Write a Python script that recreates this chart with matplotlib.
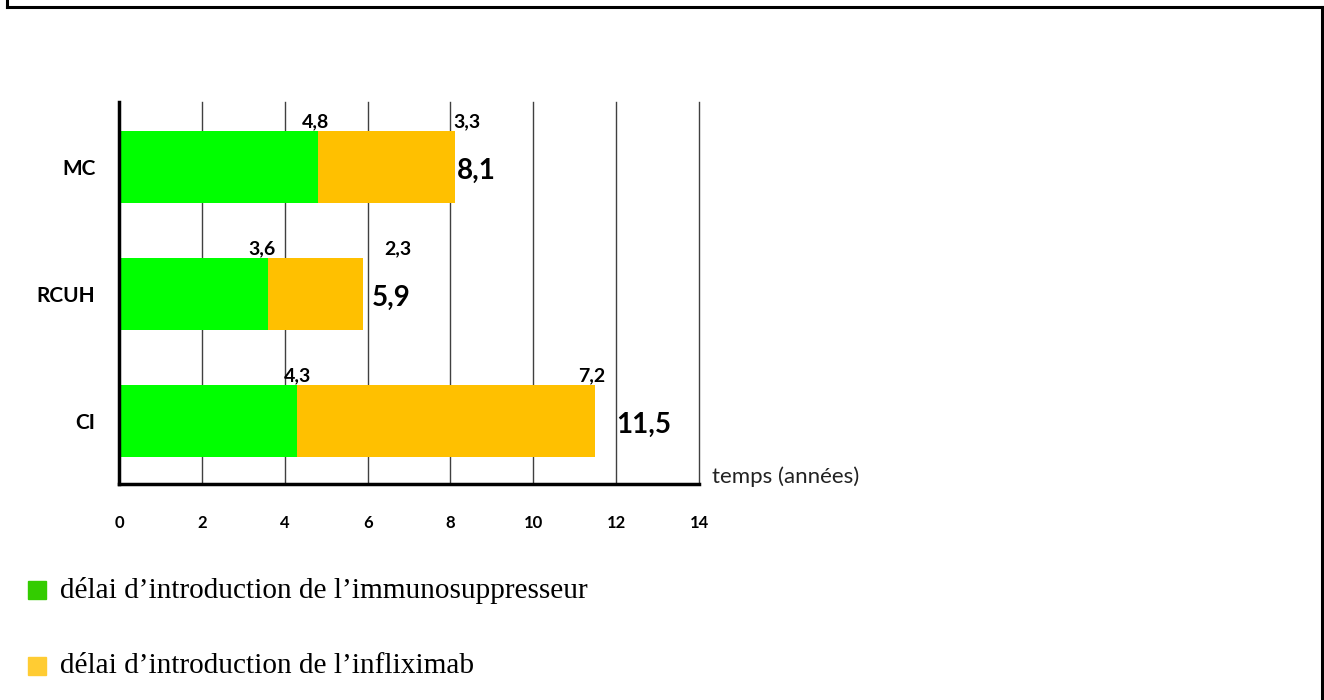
import matplotlib.pyplot as plt
from matplotlib.lines import Line2D
from matplotlib.patches import Rectangle

categories = ["CI", "RCUH", "MC"]
immuno = [4.3, 3.6, 4.8]
inflix = [7.2, 2.3, 3.3]
totals = [11.5, 5.9, 8.1]
# where the segment labels sit
immuno_label_x = [4.32, 3.45, 4.75]
inflix_label_x = [11.42, 6.73, 8.4]
total_label_x = [12.0, 6.1, 8.15]

green = "#00ff00"
orange = "#ffc000"

fig = plt.figure(figsize=(13.24, 7), dpi=100)
ax = fig.add_axes([119 / 1324, 216 / 700, 580 / 1324, 382 / 700])

ypos = list(range(len(categories)))
ax.barh(ypos, immuno, height=0.567, color=green, zorder=2)
ax.barh(ypos, inflix, left=immuno, height=0.567, color=orange, zorder=2)

lab = dict(fontfamily="Lato", fontweight="bold", color="black")
for i in ypos:
    ax.text(immuno_label_x[i], i + 0.36, f"{immuno[i]}".replace(".", ","),
            ha="center", va="center", fontsize=14, **lab)
    ax.text(inflix_label_x[i], i + 0.36, f"{inflix[i]}".replace(".", ","),
            ha="center", va="center", fontsize=14, **lab)
    ax.text(total_label_x[i], i - 0.03, f"{totals[i]}".replace(".", ","),
            ha="left", va="center", fontsize=20, **lab)

ax.set_xlim(0, 14)
ax.set_ylim(-0.496, 2.512)
ax.set_xticks(range(0, 15, 2))
ax.set_yticks(ypos)
ax.set_yticklabels(categories, fontfamily="Lato", fontweight="bold", fontsize=15)
for t in ax.get_xticklabels():
    t.set_fontfamily("Lato")
    t.set_fontweight("bold")
    t.set_fontsize(12)
ax.tick_params(axis="x", length=0, pad=22)
ax.tick_params(axis="y", length=0, pad=17)
ax.xaxis.grid(True, color="#404040", linewidth=1)
for gl in ax.get_xgridlines():
    gl.set_clip_on(False)
ax.set_axisbelow(True)
for s in ["top", "right"]:
    ax.spines[s].set_visible(False)
ax.spines["left"].set_linewidth(2.5)
ax.spines["bottom"].set_linewidth(2.5)

fig.text(712 / 1324, 1 - 477 / 700, "temps (années)", fontfamily="Lato",
         fontsize=16, va="center", ha="left", color="#222222")

# legend drawn by hand under the chart
leg_items = ["délai d’introduction de l’immunosuppresseur", "délai d’introduction de l’infliximab"]
leg_colors = ["#33cc00", "#ffcc33"]
for k, (txt, col) in enumerate(zip(leg_items, leg_colors)):
    yc = 1 - (590 + 76 * k) / 700
    fig.patches.append(Rectangle((28 / 1324, yc - 9 / 700), 18 / 1324, 18 / 700,
                                 transform=fig.transFigure, color=col))
    fig.text(60 / 1324, yc, txt, fontfamily="Liberation Serif", fontsize=21.1,
             va="center", ha="left")

# frame round the picture
for xs, ys in [([7, 7], [0, 7]), ([7, 1322], [7, 7]), ([1322, 1322], [7, 700])]:
    fig.add_artist(Line2D([x / 1324 for x in xs], [1 - y / 700 for y in ys],
                          transform=fig.transFigure, color="black", linewidth=2.2))

fig.savefig("out.png", dpi=100)
